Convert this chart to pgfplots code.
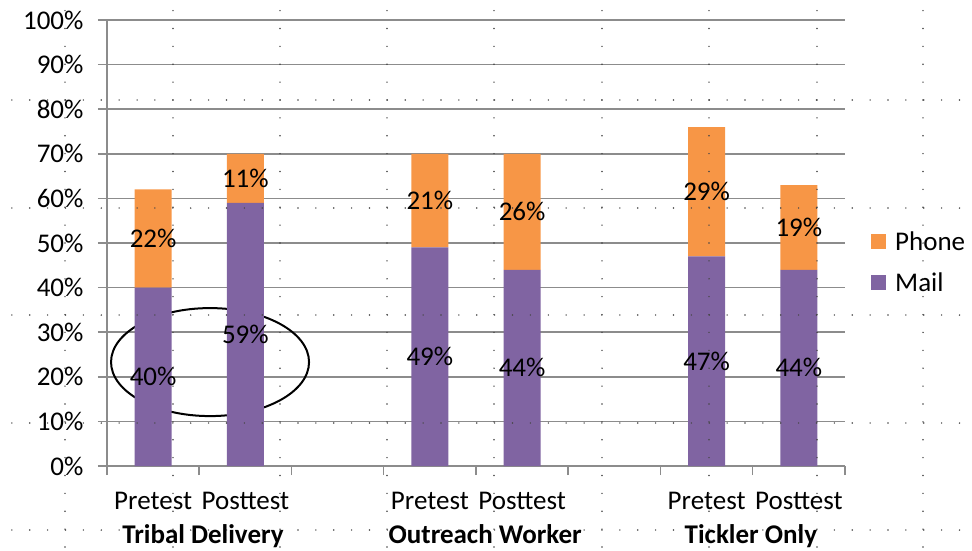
\documentclass[border=0pt]{standalone}
\usepackage{pgfplots}
\pgfplotsset{compat=1.18}
\usepackage{pgfplotstable}
\usepackage{fontspec}
\setmainfont{Carlito}
\definecolor{phone}{RGB}{247,150,70}
\definecolor{mail}{RGB}{128,100,162}
\definecolor{gridgray}{RGB}{140,140,140}
\definecolor{dotgray}{RGB}{70,70,70}
\pgfplotstableread{
x mail phone
0 40 22
1 59 11
3 49 21
4 44 26
6 47 29
7 44 19
}\datatable
\newcommand{\bigfont}{\fontsize{27}{31}\selectfont}
\begin{document}
\begin{tikzpicture}
\useasboundingbox (-107pt,-84pt) rectangle (865pt,466pt);
\begin{axis}[
  at={(0pt,0pt)}, anchor=south west,
  scale only axis, width=738pt, height=446pt,
  ybar stacked, bar width=37pt,
  xmin=-0.5, xmax=7.5, ymin=0, ymax=100,
  clip=false,
  axis x line*=bottom, axis y line*=left,
  axis line style={draw=gridgray, line width=1.5pt},
  ytick={0,10,...,100},
  yticklabel={\pgfmathprintnumber{\tick}\%},
  ymajorgrids,
  grid style={draw=gridgray, line width=1.5pt},
  tick align=outside,
  major tick length=9pt,
  tick style={draw=gridgray, line width=1.5pt},
  xtick={-0.5,0.5,...,7.5},
  xticklabels={},
  extra x ticks={0,1,3,4,6,7},
  extra x tick labels={Pretest,Posttest,Pretest,Posttest,Pretest,Posttest},
  extra x tick style={major tick length=0pt, xticklabel style={anchor=base, yshift=-43pt}},
  /pgf/number format/assume math mode=true,
  tick label style={font=\bigfont, text=black},
  yticklabel style={xshift=-11pt},
  legend style={at={(1,0.457)}, anchor=west, xshift=26pt, draw=none, fill=none,
    font=\bigfont, row sep=17pt, inner sep=0pt, cells={anchor=west},
    /tikz/every odd column/.append style={column sep=7pt}},
  legend image code/.code={\fill[#1, draw=none] (0pt,-7.5pt) rectangle (15pt,7.5pt);},
  reverse legend,
  point meta=rawy,
  nodes near coords={\pgfmathprintnumber{\pgfplotspointmeta}\%},
  every node near coord/.append style={font=\bigfont, text=black, anchor=center},
]
\addplot[fill=mail, draw=none] table[x=x, y=mail] {\datatable};
\addlegendentry{Mail}
\addplot[fill=phone, draw=none] table[x=x, y=phone] {\datatable};
\addlegendentry{Phone}
\draw[line width=2pt, black] (axis cs:0.617,23.3) ellipse [x radius=99pt, y radius=54pt];
\node[font=\bigfont\bfseries, anchor=base] at ([yshift=-77pt]axis cs:0.54,0) {Tribal Delivery};
\node[font=\bigfont\bfseries, anchor=base] at ([yshift=-77pt]axis cs:3.6,0) {Outreach Worker};
\node[font=\bigfont\bfseries, anchor=base] at ([yshift=-77pt]axis cs:6.48,0) {Tickler Only};
\end{axis}
\foreach \yy in {366,258,151,43,-64}{
  \draw[dotgray, line width=1.6pt, line cap=round, dash pattern=on 0pt off 17.88pt]
    (-95.1pt,\yy pt) -- (865pt,\yy pt);
}
\foreach \xx in {-42,66,173,280,387,495,602,710,816}{
  \draw[dotgray, line width=1.6pt, line cap=round, dash pattern=on 0pt off 17.88pt]
    (\xx pt,455.4pt) -- (\xx pt,-84pt);
}
\end{tikzpicture}
\end{document}
